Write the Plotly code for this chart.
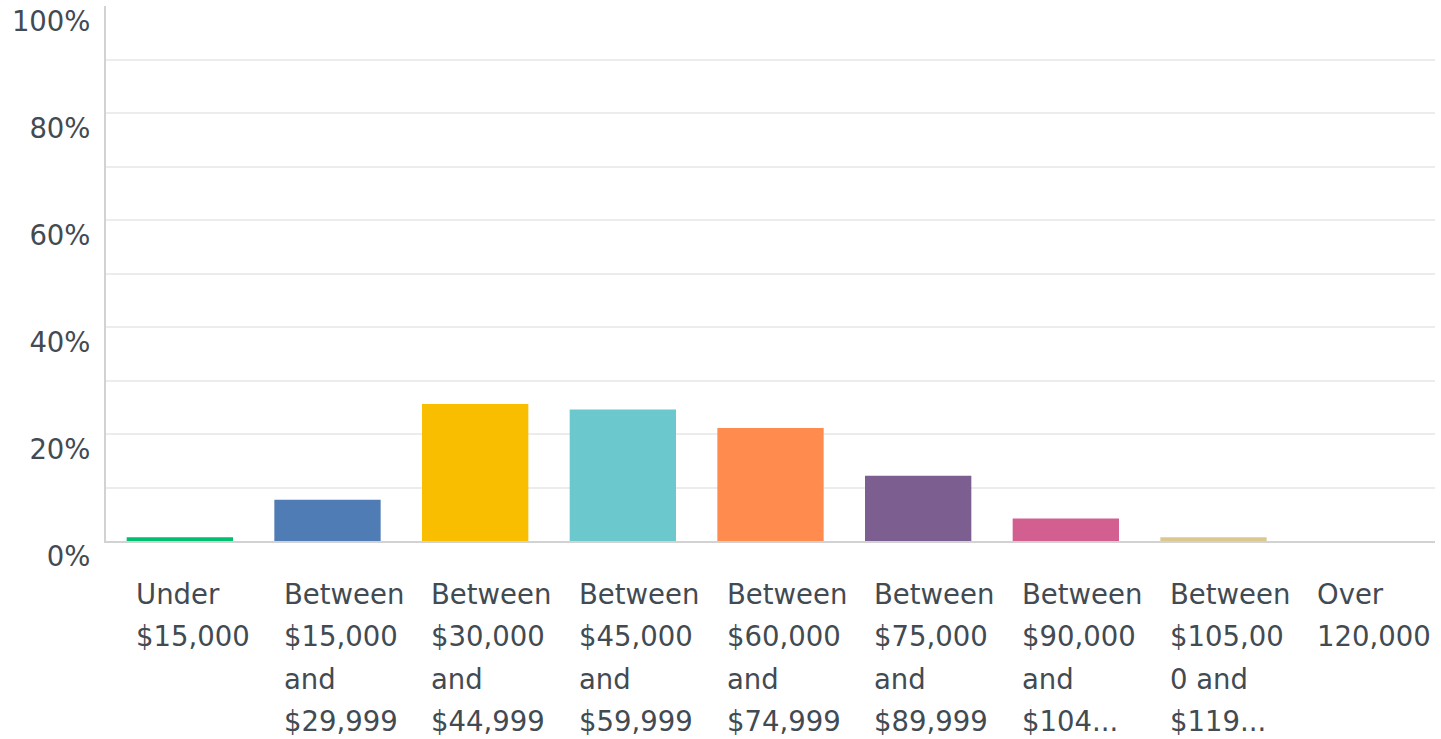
import plotly.graph_objects as go

categories = [
    "Under $15,000",
    "Between $15,000 and $29,999",
    "Between $30,000 and $44,999",
    "Between $45,000 and $59,999",
    "Between $60,000 and $74,999",
    "Between $75,000 and $89,999",
    "Between $90,000 and $104...",
    "Between $105,000 and $119...",
    "Over 120,000",
]
label_lines = [
    ["Under", "$15,000"],
    ["Between", "$15,000", "and", "$29,999"],
    ["Between", "$30,000", "and", "$44,999"],
    ["Between", "$45,000", "and", "$59,999"],
    ["Between", "$60,000", "and", "$74,999"],
    ["Between", "$75,000", "and", "$89,999"],
    ["Between", "$90,000", "and", "$104..."],
    ["Between", "$105,00", "0 and", "$119..."],
    ["Over", "120,000"],
]
values = [0.7, 7.7, 25.6, 24.6, 21.1, 12.2, 4.2, 0.7, 0.0]
colors = ["#00BF6F", "#507CB6", "#F9BE00", "#6BC8CD", "#FF8B4F",
          "#7D5E90", "#D25F90", "#DAC88F", "#999999"]
y_ticks = [0, 20, 40, 60, 80, 100]

FONT = "DejaVu Sans"
TXT = "#424a52"
FSIZE = 27.5

fig = go.Figure(go.Bar(
    x=list(range(len(categories))),
    y=values,
    marker=dict(color=colors, line=dict(width=0)),
    hovertext=categories,
))

line_offsets = [53, 95, 138, 180]
annotations = []
for i, lines in enumerate(label_lines):
    for j, t in enumerate(lines):
        annotations.append(dict(
            x=i, xref="x", y=0, yref="paper",
            text=t, showarrow=False,
            xanchor="left", yanchor="middle",
            xshift=-46, yshift=-line_offsets[j],
            font=dict(family=FONT, size=FSIZE, color=TXT),
        ))

fig.update_layout(
    width=1441, height=739,
    margin=dict(l=106, r=6, t=6, b=198),
    paper_bgcolor="white", plot_bgcolor="white",
    bargap=0.28,
    showlegend=False,
    annotations=annotations,
    xaxis=dict(
        range=[-0.5, len(categories) - 0.5],
        showticklabels=False, showgrid=False, zeroline=False,
        showline=True, linecolor="#d2d2d2", linewidth=2,
        ticks="", automargin=False,
    ),
    yaxis=dict(
        range=[0, 100],
        tickvals=y_ticks,
        ticktext=[f"{v}%" for v in y_ticks],
        tickfont=dict(family=FONT, size=FSIZE, color=TXT),
        showgrid=True, gridcolor="#ececec", gridwidth=2,
        minor=dict(dtick=10, showgrid=True, gridcolor="#ececec", gridwidth=2),
        zeroline=False,
        showline=True, linecolor="#d2d2d2", linewidth=2,
        ticks="", ticklabelstandoff=8, ticklabelshift=15,
        ticklabeloverflow="allow",
        automargin=False,
    ),
)

fig.write_html("out.html", config={"displayModeBar": False},
               post_script="document.body.style.margin='0';")
